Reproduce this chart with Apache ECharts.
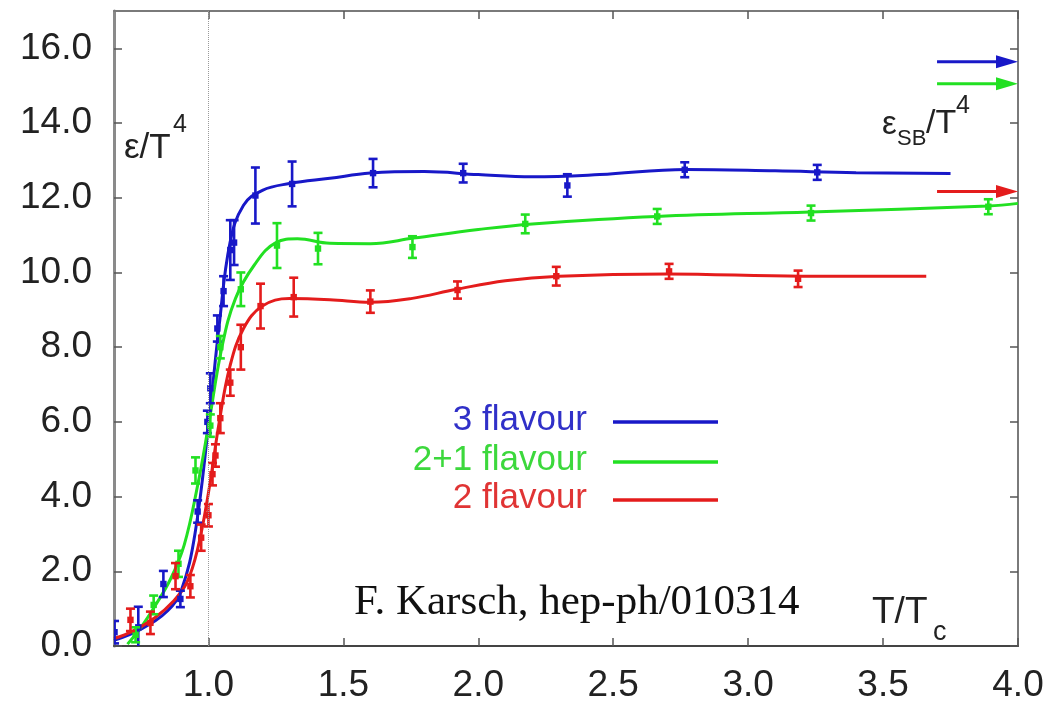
<!DOCTYPE html>
<html>
<head>
<meta charset="utf-8">
<script src="https://cdn.jsdelivr.net/npm/echarts@6/dist/echarts.min.js"></script>
<style>
  html, body { margin: 0; padding: 0; background: #ffffff; }
  #chart { width: 1048px; height: 704px; }
</style>
</head>
<body>
<div id="chart"></div>
<script>
// Axis ticks
const xTicks = [1.0, 1.5, 2.0, 2.5, 3.0, 3.5, 4.0];
const yTicks = [0, 2, 4, 6, 8, 10, 12, 14, 16];

// Lattice results: [T/Tc, eps/T^4, error]
const points3f = [
  [0.652, 0.37, 0.30], [0.740, 0.50, 0.55], [0.833, 1.66, 0.35], [0.896, 1.26, 0.22],
  [0.960, 3.60, 0.30], [0.996, 6.00, 0.30], [1.007, 6.90, 0.40], [1.033, 8.50, 0.35],
  [1.056, 9.50, 0.40], [1.081, 10.60, 0.80], [1.095, 10.80, 0.60], [1.174, 12.06, 0.75],
  [1.310, 12.37, 0.60], [1.610, 12.66, 0.38], [1.944, 12.66, 0.25], [2.330, 12.33, 0.30],
  [2.765, 12.75, 0.20], [3.256, 12.68, 0.20]
];
const points21f = [
  [0.730, 0.30, 0.20], [0.797, 1.10, 0.25], [0.889, 2.20, 0.35], [0.952, 4.70, 0.35],
  [1.007, 5.90, 0.30], [1.044, 8.00, 0.30], [1.120, 9.55, 0.45], [1.254, 10.72, 0.60],
  [1.406, 10.64, 0.42], [1.756, 10.68, 0.29], [2.174, 11.30, 0.25], [2.663, 11.50, 0.20],
  [3.233, 11.59, 0.20], [3.890, 11.76, 0.20]
];
const points2f = [
  [0.711, 0.70, 0.30], [0.785, 0.62, 0.30], [0.878, 1.87, 0.35], [0.933, 1.60, 0.30],
  [0.973, 2.90, 0.35], [1.000, 3.50, 0.30], [1.015, 4.60, 0.30], [1.026, 5.10, 0.30],
  [1.044, 6.10, 0.40], [1.081, 7.05, 0.35], [1.120, 8.00, 0.60], [1.193, 9.10, 0.60],
  [1.316, 9.34, 0.52], [1.600, 9.22, 0.30], [1.923, 9.53, 0.23], [2.289, 9.90, 0.25],
  [2.707, 10.03, 0.20], [3.185, 9.83, 0.22]
];

// Fitted curves through the lattice data
const curve3f = [
  [0.65, 0.15], [0.75, 0.45], [0.85, 0.95], [0.90, 1.50], [0.95, 3.00], [1.00, 5.90],
  [1.04, 8.60], [1.08, 10.80], [1.13, 11.80], [1.20, 12.20], [1.30, 12.38], [1.45, 12.52],
  [1.60, 12.66], [1.80, 12.70], [2.00, 12.62], [2.20, 12.56], [2.45, 12.62], [2.77, 12.76],
  [3.10, 12.72], [3.40, 12.67], [3.75, 12.65]
];
const curve21f = [
  [0.70, 0.05], [0.75, 0.50], [0.80, 1.05], [0.86, 1.80], [0.91, 2.70], [0.96, 4.30],
  [1.00, 5.90], [1.05, 8.00], [1.10, 9.30], [1.17, 10.20], [1.25, 10.80], [1.33, 10.90],
  [1.45, 10.78], [1.60, 10.77], [1.76, 10.92], [2.00, 11.15], [2.20, 11.30], [2.66, 11.50],
  [3.23, 11.62], [3.89, 11.78], [4.00, 11.85]
];
const curve2f = [
  [0.65, 0.20], [0.72, 0.40], [0.80, 0.75], [0.87, 1.20], [0.92, 1.70], [0.96, 2.60],
  [1.00, 4.10], [1.04, 6.00], [1.08, 7.50], [1.13, 8.50], [1.20, 9.10], [1.30, 9.30],
  [1.45, 9.27], [1.60, 9.20], [1.75, 9.30], [1.92, 9.55], [2.10, 9.78], [2.30, 9.90],
  [2.70, 9.96], [3.20, 9.90], [3.66, 9.90]
];

// Stefan-Boltzmann limits (3, 2+1, 2 flavour) and where their arrows start
const sbLimits = [15.64, 15.05, 12.17];
const sbArrowStart = [3.70, 3.70, 3.70];

const xRange = [0.65, 4.0];
const yRange = [0, 17];

const BLUE = '#1818c8';
const GREEN = '#22e022';
const RED = '#e41c1c';
const lineColors = [BLUE, GREEN, RED];

const chart = echarts.init(document.getElementById('chart'), null, { renderer: 'canvas' });

function errorBarSeries(data, color) {
  return {
    type: 'custom',
    clip: true,
    z: 4,
    xAxisIndex: 0,
    yAxisIndex: 0,
    encode: { x: 0, y: 1 },
    data: data,
    renderItem: function (params, api) {
      const x = api.value(0), y = api.value(1), e = api.value(2);
      const hi = api.coord([x, y + e]);
      const lo = api.coord([x, y - e]);
      const c = api.coord([x, y]);
      const w = 4.5;
      const st = { stroke: color, lineWidth: 2.6 };
      return {
        type: 'group',
        children: [
          { type: 'line', shape: { x1: hi[0], y1: hi[1], x2: lo[0], y2: lo[1] }, style: st },
          { type: 'line', shape: { x1: hi[0] - w, y1: hi[1], x2: hi[0] + w, y2: hi[1] }, style: st },
          { type: 'line', shape: { x1: lo[0] - w, y1: lo[1], x2: lo[0] + w, y2: lo[1] }, style: st },
          { type: 'rect', shape: { x: c[0] - 3.2, y: c[1] - 3.2, width: 6.4, height: 6.4 }, style: { fill: color } }
        ]
      };
    }
  };
}

function curveSeries(name, data, color, extra) {
  return Object.assign({
    name: name,
    type: 'line',
    data: data,
    smooth: 0.4,
    showSymbol: false,
    symbol: 'none',
    z: 3,
    lineStyle: { color: color, width: 3 },
    itemStyle: { color: color },
    silent: true
  }, extra || {});
}

const axisGray = '#7a7a7a';
const tickStyle = { show: true, inside: true, length: 8, lineStyle: { color: '#555', width: 1.5 } };

const option = {
  animation: false,
  backgroundColor: '#ffffff',
  grid: { left: 114, right: 30, top: 11, bottom: 58, containLabel: false },
  xAxis: [
    {
      type: 'value', min: xRange[0], max: xRange[1], position: 'bottom',
      axisLine: { show: true, onZero: false, lineStyle: { color: '#444', width: 2 } },
      axisTick: Object.assign({}, tickStyle, { customValues: xTicks }),
      axisLabel: {
        customValues: xTicks, margin: 21,
        formatter: v => v.toFixed(1),
        fontFamily: 'Liberation Sans, Arial, sans-serif', fontSize: 37, color: '#222'
      },
      splitLine: { show: false }
    },
    {
      type: 'value', min: xRange[0], max: xRange[1], position: 'top',
      axisLine: { show: true, onZero: false, lineStyle: { color: axisGray, width: 2 } },
      axisTick: Object.assign({}, tickStyle, { customValues: xTicks }),
      axisLabel: { show: false, customValues: xTicks },
      splitLine: { show: false }
    }
  ],
  yAxis: [
    {
      type: 'value', min: yRange[0], max: yRange[1], position: 'left',
      axisLine: { show: true, onZero: false, lineStyle: { color: '#8a8a8a', width: 3 } },
      axisTick: Object.assign({}, tickStyle, { customValues: yTicks }),
      axisLabel: {
        customValues: yTicks, margin: 22,
        formatter: v => v.toFixed(1),
        fontFamily: 'Liberation Sans, Arial, sans-serif', fontSize: 37, color: '#222'
      },
      splitLine: { show: false }
    },
    {
      type: 'value', min: yRange[0], max: yRange[1], position: 'right',
      axisLine: { show: true, onZero: false, lineStyle: { color: axisGray, width: 2 } },
      axisTick: Object.assign({}, tickStyle, { customValues: yTicks }),
      axisLabel: { show: false, customValues: yTicks },
      splitLine: { show: false }
    }
  ],
  series: [
    curveSeries('3 flavour', curve3f, BLUE, {
      markLine: {
        silent: true, symbol: 'none', animation: false,
        label: { show: false },
        lineStyle: { type: 'dotted', color: '#9a9a9a', width: 1 },
        data: [{ xAxis: 1.0 }]
      }
    }),
    curveSeries('2+1 flavour', curve21f, GREEN),
    curveSeries('2 flavour', curve2f, RED),
    errorBarSeries(points3f, BLUE),
    errorBarSeries(points21f, GREEN),
    errorBarSeries(points2f, RED),
    {
      // Stefan-Boltzmann limit arrows at the right edge
      type: 'custom',
      clip: false,
      z: 5,
      encode: { x: 0, y: 1 },
      data: sbLimits.map((v, i) => [sbArrowStart[i], v, i]),
      renderItem: function (params, api) {
        const x0 = api.value(0), v = api.value(1), idx = api.value(2);
        const color = lineColors[idx];
        const a = api.coord([x0, v]);
        const b = api.coord([xRange[1], v]);
        const head = 22, half = 6.5;
        return {
          type: 'group',
          children: [
            { type: 'line', shape: { x1: a[0], y1: a[1], x2: b[0] - head + 2, y2: b[1] },
              style: { stroke: color, lineWidth: 3 } },
            { type: 'polygon', shape: { points: [[b[0] - head, b[1] - half], [b[0], b[1]], [b[0] - head, b[1] + half]] },
              style: { fill: color } }
          ]
        };
      }
    }
  ],
  graphic: [
    // left axis title: eps / T^4
    { type: 'text', left: 124, top: 131, style: { text: 'ε/T', font: '35px "Liberation Sans", Arial, sans-serif', fill: '#222' } },
    { type: 'text', left: 173, top: 113, style: { text: '4', font: '25px "Liberation Sans", Arial, sans-serif', fill: '#222' } },
    // Stefan-Boltzmann label
    { type: 'text', left: 882, top: 108, style: { text: 'ε', font: '33px "Liberation Sans", Arial, sans-serif', fill: '#222' } },
    { type: 'text', left: 897, top: 128, style: { text: 'SB', font: '22px "Liberation Sans", Arial, sans-serif', fill: '#222' } },
    { type: 'text', left: 926, top: 107, style: { text: '/T', font: '34px "Liberation Sans", Arial, sans-serif', fill: '#222' } },
    { type: 'text', left: 956, top: 94, style: { text: '4', font: '25px "Liberation Sans", Arial, sans-serif', fill: '#222' } },
    // x axis title: T / T_c
    { type: 'text', left: 872, top: 594, style: { text: 'T/T', font: '37px "Liberation Sans", Arial, sans-serif', fill: '#222' } },
    { type: 'text', left: 933, top: 619, style: { text: 'c', font: '27px "Liberation Sans", Arial, sans-serif', fill: '#222' } },
    // reference
    { type: 'text', left: 354, top: 581, style: { text: 'F. Karsch, hep-ph/010314', font: '43px "Liberation Serif", "Times New Roman", serif', fill: '#111' } },
    // legend
    { type: 'text', right: 1048 - 587, top: 403, style: { text: '3 flavour', font: '35px "Liberation Sans", Arial, sans-serif', fill: '#3030c8' } },
    { type: 'text', right: 1048 - 587, top: 443, style: { text: '2+1 flavour', font: '35px "Liberation Sans", Arial, sans-serif', fill: '#3cd83c' } },
    { type: 'text', right: 1048 - 587, top: 481, style: { text: '2 flavour', font: '35px "Liberation Sans", Arial, sans-serif', fill: '#e03434' } },
    { type: 'line', shape: { x1: 613, y1: 422, x2: 718, y2: 422 }, style: { stroke: BLUE, lineWidth: 3.5 } },
    { type: 'line', shape: { x1: 613, y1: 462, x2: 718, y2: 462 }, style: { stroke: GREEN, lineWidth: 3.5 } },
    { type: 'line', shape: { x1: 613, y1: 500, x2: 718, y2: 500 }, style: { stroke: RED, lineWidth: 3.5 } }
  ]
};

chart.setOption(option);
</script>
</body>
</html>
